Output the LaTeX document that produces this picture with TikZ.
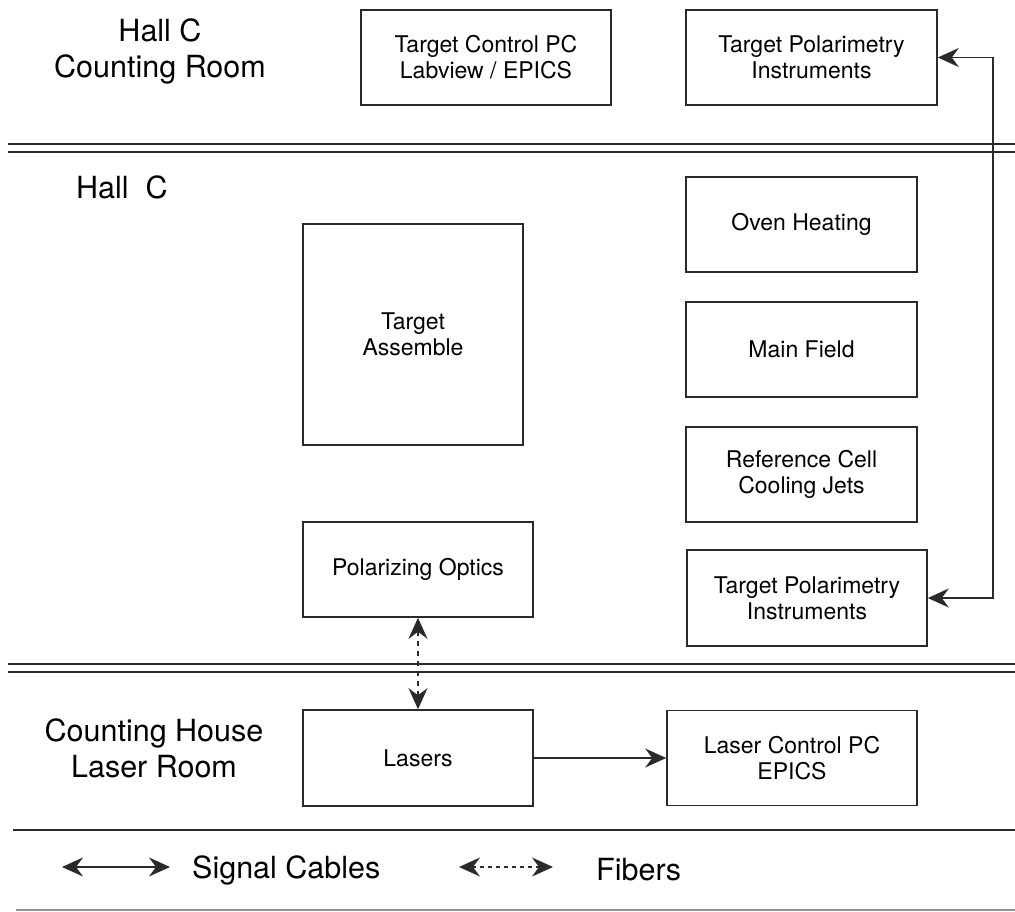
\documentclass[tikz,border=0pt]{standalone}
\usepackage{fontspec}
\setmainfont{TeX Gyre Heros}
\usetikzlibrary{arrows.meta}
\definecolor{ln}{HTML}{2A2A2A}
\tikzset{
  box/.style={draw=ln, line width=1.6pt, align=center, font=\fontsize{23}{26}\selectfont, inner sep=2pt},
  region/.style={align=center, font=\fontsize{30.5}{36}\selectfont, inner sep=0pt},
  sep/.style={draw=ln, line width=1.6pt},
  sig/.style={draw=ln, line width=1.6pt, {Stealth[length=21pt, width=19pt, inset=7pt]}-{Stealth[length=21pt, width=19pt, inset=7pt]}},
  one/.style={draw=ln, line width=1.6pt, -{Stealth[length=21pt, width=19pt, inset=7pt]}},
  fib/.style={draw=ln, line width=1.6pt, dash pattern=on 5pt off 5pt, {Stealth[length=21pt, width=19pt, inset=7pt]}-{Stealth[length=21pt, width=19pt, inset=7pt]}},
}
\begin{document}
\begin{tikzpicture}[x=1pt,y=-1pt]
\useasboundingbox (0,0) rectangle (1015,912);
% separators
\coordinate (l1a) at (8,144); \coordinate (l1b) at (1015,144);
\coordinate (l2a) at (8,152); \coordinate (l2b) at (1015,152);
\coordinate (l3a) at (8,664); \coordinate (l3b) at (1015,664);
\coordinate (l4a) at (8,672); \coordinate (l4b) at (1015,672);
\coordinate (l5a) at (13,830); \coordinate (l5b) at (1015,830);
\coordinate (l6a) at (16,910); \coordinate (l6b) at (1015,910);
\draw[sep] (l1a) -- (l1b);
\draw[sep] (l2a) -- (l2b);
\draw[sep] (l3a) -- (l3b);
\draw[sep] (l4a) -- (l4b);
\draw[sep] (l5a) -- (l5b);
\draw[draw=ln!50, line width=1.2pt] (l6a) -- (l6b);
% region labels
\node[region] (r1) at (160,51) {Hall C\\Counting Room};
\node[region, anchor=west] (r2) at (76,187) {Hall\ \ C};
\node[region] (r3) at (154,748) {Counting House\\Laser Room};
% boxes
\node[box, minimum width=250pt, minimum height=95pt] (tcpc) at (486,57.5) {Target Control PC\\Labview / EPICS};
\node[box, minimum width=251pt, minimum height=95pt] (tpi1) at (811.5,57.5) {Target Polarimetry\\Instruments};
\node[box, minimum width=231pt, minimum height=95pt] (oven) at (801.5,224.5) {Oven Heating};
\node[box, minimum width=220pt, minimum height=221pt] (assem) at (413,334.5) {Target\\Assemble};
\node[box, minimum width=231pt, minimum height=95pt] (field) at (801.5,349.5) {Main Field};
\node[box, minimum width=231pt, minimum height=95pt] (refc) at (801.5,474.5) {Reference Cell\\Cooling Jets};
\node[box, minimum width=230pt, minimum height=95pt] (optics) at (418,569.5) {Polarizing Optics};
\node[box, minimum width=240pt, minimum height=96pt] (tpi2) at (807,598) {Target Polarimetry\\Instruments};
\node[box, minimum width=230pt, minimum height=96pt] (lasers) at (418,758) {Lasers};
\node[box, minimum width=250pt, minimum height=95pt] (lcpc) at (792,758) {Laser Control PC\\EPICS};
% connectors
\coordinate (rt) at (993,0);
\draw[sig] (tpi1.east) -- (tpi1.east -| rt) |- (tpi2.east);
\draw[fib] (optics.south) -- (lasers.north);
\draw[one] (lasers.east) -- (lcpc.west);
% legend
\coordinate (sa) at (62,867); \coordinate (sb) at (170,867);
\coordinate (fa) at (459,867); \coordinate (fb) at (553,867);
\draw[sig] (sa) -- (sb);
\draw[fib, dash pattern=on 4pt off 4pt] (fa) -- (fb);
\node[region, anchor=west] (lg1) at (192,870) {Signal Cables};
\node[region, anchor=west] (lg2) at (596,870) {Fibers};
\end{tikzpicture}
\end{document}
